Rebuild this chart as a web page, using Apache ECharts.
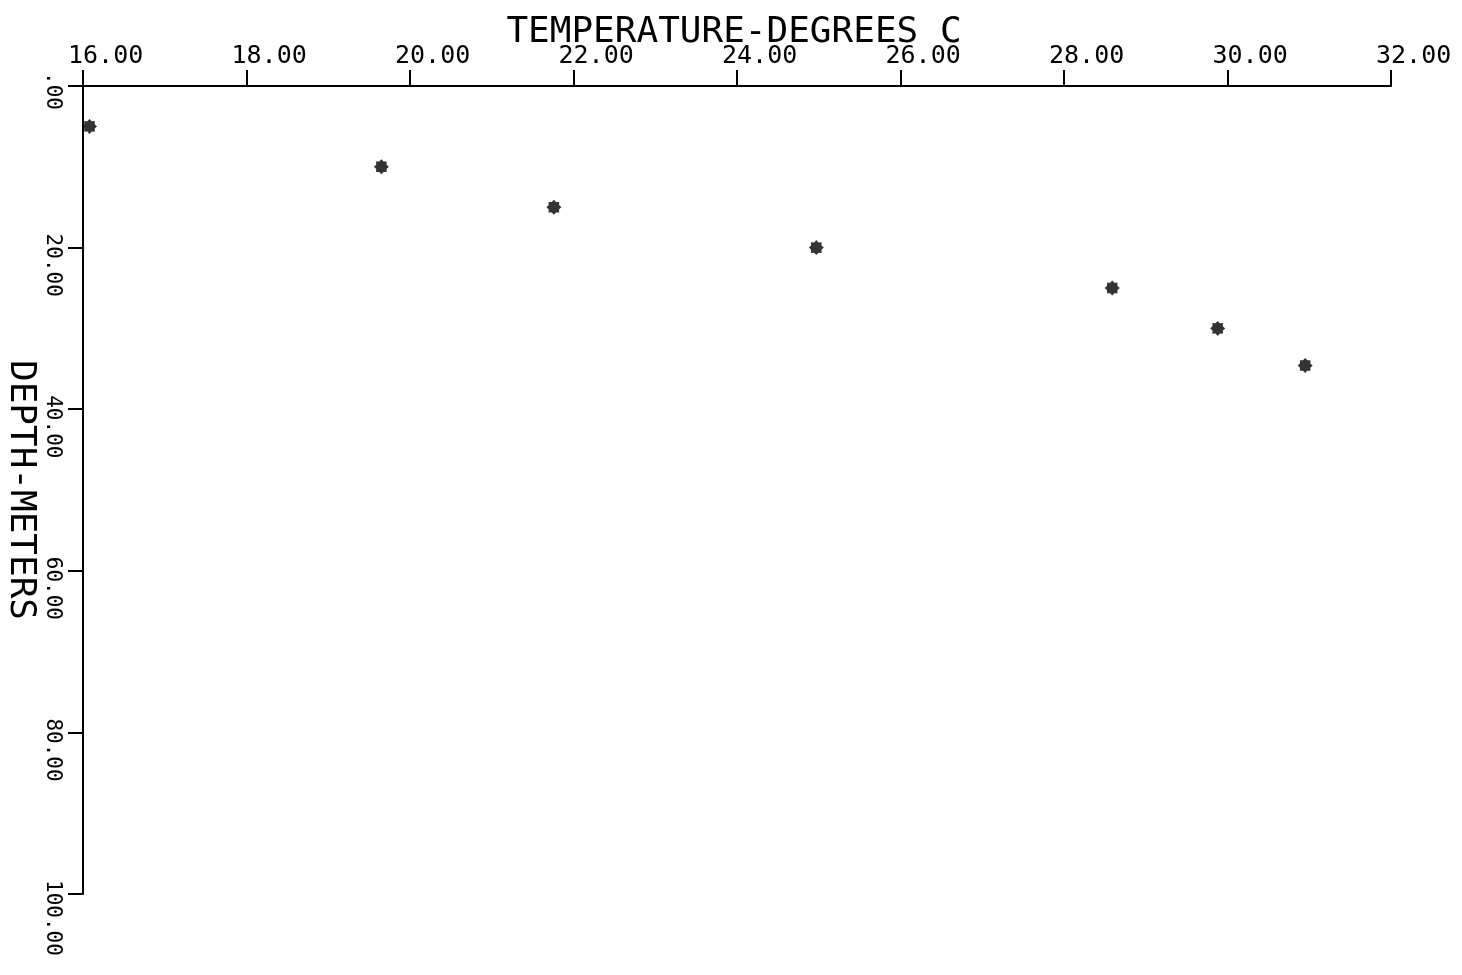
<!DOCTYPE html>
<html>
<head>
<meta charset="utf-8">
<title>Temperature vs depth</title>
<script src="https://cdn.jsdelivr.net/npm/echarts@6/dist/echarts.min.js"></script>
<style>
  html, body { margin: 0; padding: 0; background: #ffffff; }
  #chart { width: 1462px; height: 975px; }
</style>
</head>
<body>
<div id="chart"></div>
<script>
// Temperature profile: temperature (deg C) at each sampled depth (m)
const temperatures = [16.08, 19.65, 21.76, 24.97, 28.59, 29.88, 30.95];
const depths = [5, 10, 15, 20, 25, 30, 34.6];

// Axis tick labels as printed on the plot
const tempTickLabels = ['16.00', '18.00', '20.00', '22.00', '24.00', '26.00', '28.00', '30.00', '32.00'];
const depthTickLabels = ['.00', '20.00', '40.00', '60.00', '80.00', '100.00'];

const TEMP_MIN = 16, TEMP_MAX = 32, TEMP_STEP = 2;
const DEPTH_MIN = 0, DEPTH_MAX = 100, DEPTH_STEP = 20;

const FONT = '"DejaVu Sans Mono", "Liberation Mono", monospace';

// Heavy eight-pointed asterisk used as the plotting mark
function asteriskPath() {
  const pts = [];
  for (let k = 0; k < 16; k++) {
    const a = (k * Math.PI) / 8;
    const r = k % 2 === 0 ? 10 : 7.5;
    pts.push((r * Math.cos(a)).toFixed(3) + ' ' + (r * Math.sin(a)).toFixed(3));
  }
  return 'path://M' + pts.join(' L') + ' Z';
}

const points = temperatures.map((t, i) => [t, depths[i]]);

const chart = echarts.init(document.getElementById('chart'), null, { renderer: 'canvas' });

chart.setOption({
  backgroundColor: '#ffffff',
  animation: false,
  title: {
    text: 'TEMPERATURE-DEGREES C',
    left: 729,
    top: 10,
    textAlign: 'center',
    textStyle: { fontFamily: FONT, fontSize: 36, fontWeight: 'normal', color: '#000' }
  },
  grid: { left: 83, top: 86, right: 71, bottom: 81, containLabel: false, outerBoundsMode: 'none' },
  xAxis: {
    type: 'value',
    position: 'top',
    min: TEMP_MIN,
    max: TEMP_MAX,
    interval: TEMP_STEP,
    axisLine: { show: true, onZero: false, lineStyle: { color: '#000', width: 2 } },
    axisTick: { show: true, inside: false, length: 16, lineStyle: { color: '#000', width: 2 } },
    splitLine: { show: false },
    axisLabel: {
      margin: 17,
      fontFamily: FONT,
      fontSize: 25,
      color: '#000',
      align: 'left',
      verticalAlign: 'bottom',
      padding: [0, 0, 0, -15],
      formatter: (v) => tempTickLabels[Math.round((v - TEMP_MIN) / TEMP_STEP)] || ''
    }
  },
  yAxis: {
    type: 'value',
    inverse: true,
    min: DEPTH_MIN,
    max: DEPTH_MAX,
    interval: DEPTH_STEP,
    name: 'DEPTH-METERS',
    nameLocation: 'middle',
    nameRotate: -90,
    nameGap: 45,
    nameMoveOverlap: false,
    nameTextStyle: { fontFamily: FONT, fontSize: 36, color: '#000' },
    axisLine: { show: true, onZero: false, lineStyle: { color: '#000', width: 2 } },
    axisTick: { show: true, inside: false, length: 15, lineStyle: { color: '#000', width: 2 } },
    splitLine: { show: false },
    axisLabel: {
      rotate: -90,
      margin: 31,
      fontFamily: FONT,
      fontSize: 21,
      color: '#000',
      align: 'left',
      verticalAlign: 'middle',
      padding: [0, 0, 0, -14],
      formatter: (v) => depthTickLabels[Math.round((v - DEPTH_MIN) / DEPTH_STEP)] || ''
    }
  },
  series: [{
    type: 'scatter',
    data: points,
    symbol: asteriskPath(),
    symbolSize: 15,
    itemStyle: { color: '#000' },
    silent: true
  }]
});
</script>
</body>
</html>
